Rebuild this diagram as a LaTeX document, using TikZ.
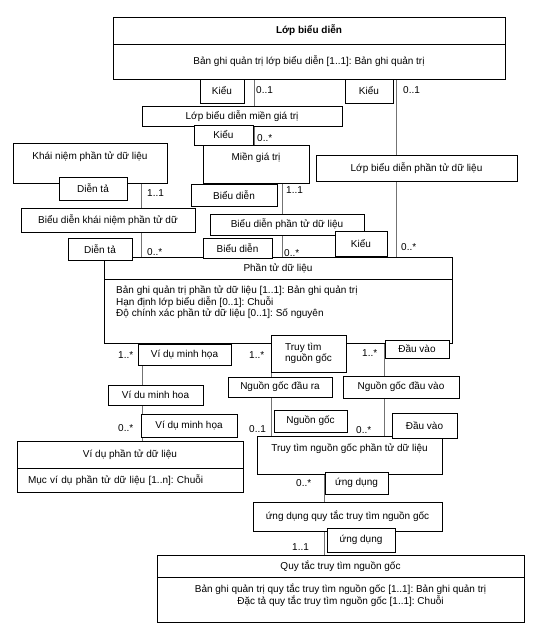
\documentclass[tikz,border=0pt]{standalone}
\usepackage{fontspec}
\setmainfont{Liberation Sans}
\usepackage{tikz}
\usetikzlibrary{positioning,backgrounds}
\frenchspacing
\newcommand\diafont{\fontsize{10}{10.5}\selectfont}
\tikzset{
  box/.style={draw=black,fill=white,line width=.8pt,inner sep=1pt,outer sep=0pt,font=\diafont},
  topbox/.style={box,text depth=14pt},
  multlbl/.style={anchor=west,inner sep=0pt,font=\diafont},
  link/.style={draw=black!55,line width=.5pt}
}

\begin{document}
\begin{tikzpicture}[x=1pt,y=-1pt]
\useasboundingbox (0,0) rectangle (543,631);
% top class
\node[box,minimum width=392pt,minimum height=27pt,font=\diafont\bfseries] (lbd) at (309,30.5){Lớp biểu diễn};
\node[box,minimum width=392pt,minimum height=35pt,below=0pt of lbd] (lbdbody){Bản ghi quản trị lớp biểu diễn [1..1]: Bản ghi quản trị};
\node[box,minimum width=44pt,minimum height=24pt] (kieuA) at (222,91){Kiểu};
\node[multlbl] (m01a) at (256,90){0..1};
\node[box,minimum width=48pt,minimum height=24pt] (kieuB) at (369,91){Kiểu};
\node[multlbl] (m01b) at (403,90){0..1};
% value domain branch
\node[box,minimum width=200pt,minimum height=20pt] (lbdmgt) at (242,116){Lớp biểu diễn miền giá trị};
\node[box,minimum width=59pt,minimum height=20pt] (kieuC) at (223.5,135){Kiểu};
\node[multlbl] (m0sa) at (257,138){0..*};
\node[topbox,minimum width=106pt,minimum height=38pt] (mgt) at (256,164){Miền giá trị};
\node[box,minimum width=86pt,minimum height=22pt] (bieudienA) at (234,195){Biểu diễn};
\node[multlbl] (m11b) at (286,190){1..1};
\node[box,minimum width=154pt,minimum height=21pt] (bdptdl) at (287,224.5){Biểu diễn phần tử dữ liệu};
% concept branch
\node[topbox,minimum width=154pt,minimum height=40pt] (kn) at (90,163){Khái niệm phần tử dữ liệu};
\node[box,minimum width=68pt,minimum height=23pt] (dientaA) at (93,188.5){Diễn tả};
\node[multlbl] (m11a) at (147,193){1..1};
\node[box,minimum width=174pt,minimum height=24pt] (bdkn) at (108,220){Biểu diễn khái niệm phần tử dữ};
% class association
\node[box,minimum width=201pt,minimum height=26pt] (lbdptdl) at (416.5,168){Lớp biểu diễn phần tử dữ liệu};
% data element
\node[box,minimum width=348pt,minimum height=22pt] (ptdl) at (278,268){Phần tử dữ liệu};
\node[box,minimum width=348pt,minimum height=64pt,below=0pt of ptdl] (ptdlbody){};
\node[anchor=north west,inner sep=0pt,align=left,font=\diafont] (ptdlattr) at ([shift={(12,7)}]ptdlbody.north west){Bản ghi quản trị phần tử dữ liệu [1..1]: Bản ghi quản trị\\Hạn định lớp biểu diễn [0..1]: Chuỗi\\Độ chính xác phần tử dữ liệu [0..1]: Số nguyên};
\node[box,minimum width=64pt,minimum height=22pt] (dientaB) at (100,249){Diễn tả};
\node[multlbl] (m0sb) at (147,252){0..*};
\node[box,minimum width=69pt,minimum height=20pt] (bieudienB) at (237.5,248){Biểu diễn};
\node[multlbl] (m0sc) at (284,253){0..*};
\node[box,minimum width=52pt,minimum height=25pt] (kieuD) at (361,243.5){Kiểu};
\node[multlbl] (m0sd) at (401,247){0..*};
% example branch
\node[multlbl] (m1sa) at (118,355){1..*};
\node[box,minimum width=93pt,minimum height=21pt] (vdmhA) at (184.5,354.5){Ví dụ minh họa};
\node[box,minimum width=95pt,minimum height=20pt] (vdmhB) at (155.5,395){Ví du minh hoa};
\node[multlbl] (m0se) at (118,428){0..*};
\node[box,minimum width=96pt,minimum height=23pt] (vdmhC) at (189,425.5){Ví dụ minh họa};
\node[box,minimum width=226pt,minimum height=27pt] (vdptdl) at (130,454.5){Ví dụ phần tử dữ liệu};
\node[box,minimum width=226pt,minimum height=24pt,below=0pt of vdptdl,align=left,text width=204pt,inner xsep=11pt] (vdptdlbody){Mục ví dụ phần tử dữ liệu [1..n]: Chuỗi};
% derivation branch
\node[multlbl] (m1sb) at (249,355){1..*};
\node[box,minimum width=75pt,minimum height=37pt,align=left] (ttng) at (308.5,353.5){Truy tìm\\nguồn gốc};
\node[multlbl] (m1sc) at (362,353){1..*};
\node[box,minimum width=64pt,minimum height=18pt] (dauvaoA) at (417,349){Đầu vào};
\node[box,minimum width=104pt,minimum height=20pt] (ngdr) at (280,387){Nguồn gốc đầu ra};
\node[box,minimum width=116pt,minimum height=22pt] (ngdv) at (401,387){Nguồn gốc đầu vào};
\node[topbox,minimum width=185pt,minimum height=38pt] (ttngptdl) at (349.5,455){Truy tìm nguồn gốc phần tử dữ liệu};
\node[multlbl] (m01c) at (249,429){0..1};
\node[box,minimum width=73pt,minimum height=22pt] (nguongoc) at (310.5,421){Nguồn gốc};
\node[multlbl] (m0sf) at (356,430){0..*};
\node[box,minimum width=65pt,minimum height=25pt] (dauvaoB) at (424.5,425.5){Đầu vào};
% rule branch
\node[multlbl] (m0sg) at (296,483){0..*};
\node[box,minimum width=63pt,minimum height=22pt] (ungdungA) at (356.5,483){ứng dụng};
\node[box,minimum width=189pt,minimum height=29pt] (udqt) at (347.5,516.5){ứng dụng quy tắc truy tìm nguồn gốc};
\node[box,minimum width=68pt,minimum height=24pt] (ungdungB) at (361,540){ứng dụng};
\node[multlbl] (m11c) at (292,547){1..1};
\node[box,minimum width=367pt,minimum height=22pt] (qt) at (340.5,566){Quy tắc truy tìm nguồn gốc};
\node[box,minimum width=367pt,minimum height=45pt,below=0pt of qt,align=center,text depth=10pt] (qtbody){Bản ghi quản trị quy tắc truy tìm nguồn gốc [1..1]: Bản ghi quản trị\\Đặc tả quy tắc truy tìm nguồn gốc [1..1]: Chuỗi};
% association lines behind the boxes
\coordinate (xa) at (254,0);
\coordinate (xb) at (396,0);
\coordinate (xc) at (141,0);
\coordinate (xd) at (282,0);
\coordinate (xe) at (142,0);
\coordinate (xf) at (271,0);
\coordinate (xg) at (384,0);
\coordinate (xh) at (324,0);
\begin{pgfonlayer}{background}
\draw[link] (lbdbody.south -| xa) -- (mgt.north -| xa);
\draw[link] (lbdbody.south -| xb) -- (ptdl.north -| xb);
\draw[link] (kn.south -| xc) -- (ptdl.north -| xc);
\draw[link] (mgt.south -| xd) -- (ptdl.north -| xd);
\draw[link] (ptdlbody.south -| xe) -- (vdptdl.north -| xe);
\draw[link] (ptdlbody.south -| xf) -- (ttngptdl.north -| xf);
\draw[link] (ptdlbody.south -| xg) -- (ttngptdl.north -| xg);
\draw[link] (ttngptdl.south -| xh) -- (qt.north -| xh);
\end{pgfonlayer}
\end{tikzpicture}
\end{document}
